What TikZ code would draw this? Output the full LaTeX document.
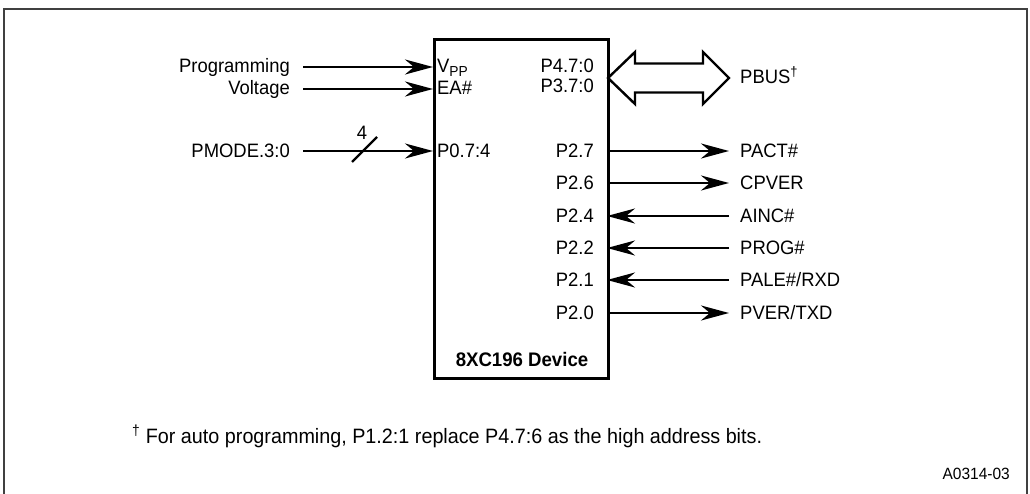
\documentclass[tikz,border=0pt]{standalone}
\usepackage{fontspec}
\setmainfont[FakeStretch=0.95]{Liberation Sans}
\usetikzlibrary{arrows.meta}
\begin{document}
\begin{tikzpicture}[x=1pt,y=-1pt,
  lbl/.style={inner sep=0pt, text height=13.8pt, text depth=0pt, font=\fontsize{19.4}{21}\selectfont},
  sig/.style={line width=2.6pt, -{Stealth[length=28pt,width=15pt,inset=9pt]}},
  frame/.style={line width=2pt, black!75},
  devbox/.style={draw, line width=3pt, minimum width=174pt, minimum height=339pt, inner sep=0pt},
  busarrow/.style={draw, line width=2.4pt, line join=miter}]
\useasboundingbox (0,0) rectangle (1030,494);
\clip (0,0) rectangle (1030,494);
\draw[frame] (3.5,9) rectangle (1027,600);
% device
\node[devbox, anchor=north west] (dev) at (433,38) {};
\node[lbl, font=\fontsize{19.6}{21}\selectfont\bfseries] (devname) at (522,360) {8XC196 Device};
% pin coordinates
\coordinate (pvpp) at (433,67);
\coordinate (pea) at (433,89);
\coordinate (pp0) at (433,151);
\coordinate (p27) at (607,151);
\coordinate (p26) at (607,183);
\coordinate (p24) at (607,216);
\coordinate (p22) at (607,248);
\coordinate (p21) at (607,280);
\coordinate (p20) at (607,313);
% left outside labels
\node[lbl, anchor=east] (prog) at (290,66) {Programming};
\node[lbl, anchor=east] (volt) at (290,88) {Voltage};
\node[lbl, anchor=east] (pmode) at (290,151) {PMODE.3:0};
% inside labels
\node[lbl, anchor=west] (vppl) at (437,66) {V\raisebox{-3.5pt}{\fontsize{14.5}{15}\selectfont PP}};
\node[lbl, anchor=west] (eal) at (437,88) {EA\#};
\node[lbl, anchor=west] (p0l) at (437,151) {P0.7:4};
\node[lbl, anchor=east] (p4l) at (594,66) {P4.7:0};
\node[lbl, anchor=east] (p3l) at (594,86) {P3.7:0};
\node[lbl, anchor=east] (p27l) at (594,151) {P2.7};
\node[lbl, anchor=east] (p26l) at (594,183) {P2.6};
\node[lbl, anchor=east] (p24l) at (594,216) {P2.4};
\node[lbl, anchor=east] (p22l) at (594,248) {P2.2};
\node[lbl, anchor=east] (p21l) at (594,280) {P2.1};
\node[lbl, anchor=east] (p20l) at (594,313) {P2.0};
% right outside labels
\node[lbl, anchor=west] (pbus) at (740,77) {PBUS\textsuperscript{\textdagger}};
\node[lbl, anchor=west] (pact) at (740,151) {PACT\#};
\node[lbl, anchor=west] (cpver) at (740,183) {CPVER};
\node[lbl, anchor=west] (ainc) at (740,216) {AINC\#};
\node[lbl, anchor=west] (progn) at (740,248) {PROG\#};
\node[lbl, anchor=west] (pale) at (740,280) {PALE\#/RXD};
\node[lbl, anchor=west] (pver) at (740,313) {PVER/TXD};
% left arrows
\draw[sig, shorten <=13pt] (prog.east |- pvpp) -- (pvpp);
\draw[sig, shorten <=13pt] (volt.east |- pea) -- (pea);
\draw[sig, shorten <=13pt] (pmode.east |- pp0) -- (pp0);
\draw[line width=2.2pt] (352,162) -- (377,137);
\node[lbl] (four) at (362,133) {4};
% bus arrow
\draw[busarrow] (608,78) -- (635,52) -- (635,63.5) -- (703,63.5) -- (703,52) -- (729,78)
  -- (703,104) -- (703,92.5) -- (635,92.5) -- (635,104) -- cycle;
% right arrows
\draw[sig, shorten >=11pt] (p27) -- (pact.west);
\draw[sig, shorten >=11pt] (p26) -- (cpver.west);
\draw[sig, shorten <=11pt] (ainc.west) -- (p24);
\draw[sig, shorten <=11pt] (progn.west) -- (p22);
\draw[sig, shorten <=11pt] (pale.west) -- (p21);
\draw[sig, shorten >=11pt] (p20) -- (pver.west);
% footnote
\node[lbl, anchor=west, font=\fontsize{20.8}{23}\selectfont, text height=14.9pt] (foot) at (132,436) {\textsuperscript{\textdagger} For auto programming, P1.2:1 replace P4.7:6 as the high address bits.};
\node[lbl, anchor=east, text height=11.6pt, font=\fontsize{16.3}{18}\selectfont] (fig) at (1010,474) {A0314-03};
\end{tikzpicture}
\end{document}
